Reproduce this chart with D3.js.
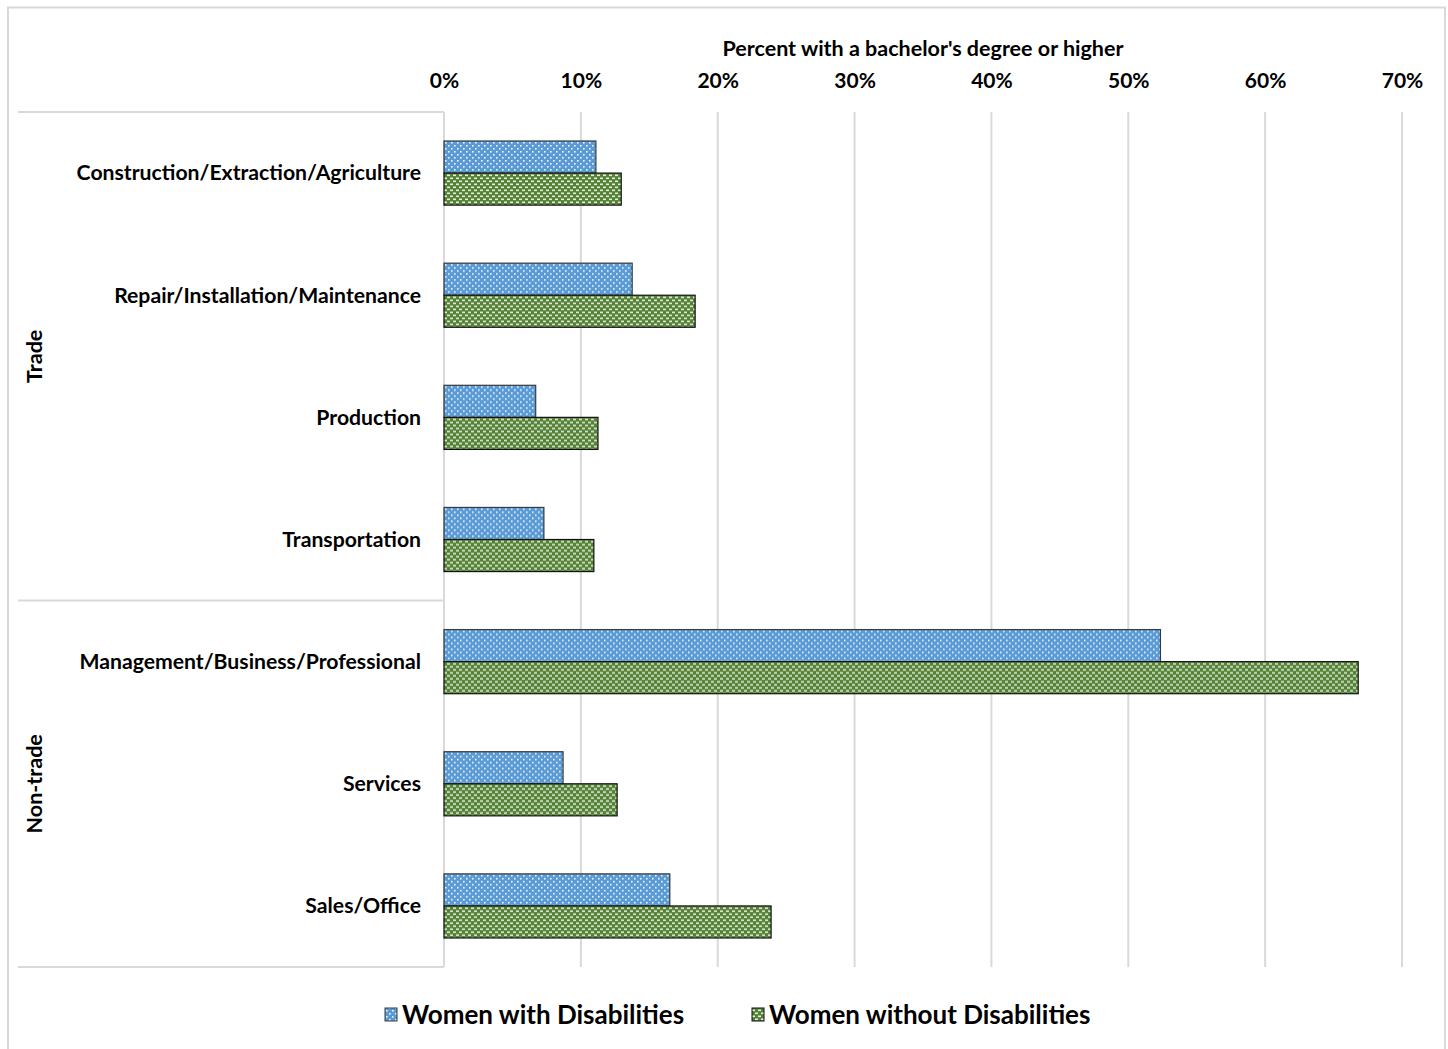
<!DOCTYPE html>
<html>
<head>
<meta charset="utf-8">
<script src="https://cdn.jsdelivr.net/npm/d3@7"></script>
<style>
  html, body { margin: 0; padding: 0; background: #fff; }
  svg { display: block; }
  text { font-family: Lato, "Open Sans", sans-serif; font-weight: 700; fill: #000; }
</style>
</head>
<body>
<svg id="chart" width="1448" height="1049"></svg>
<script>
// Occupations, top to bottom
const categories = [
  "Construction/Extraction/Agriculture",
  "Repair/Installation/Maintenance",
  "Production",
  "Transportation",
  "Management/Business/Professional",
  "Services",
  "Sales/Office"
];
// Occupation groups and how many occupations each spans
const groups = ["Trade", "Non-trade"];
const groupSizes = [4, 3];

// Share with a bachelor's degree or higher
const seriesNames = ["Women with Disabilities", "Women without Disabilities"];
const withDisabilities    = [0.111, 0.1375, 0.067, 0.073, 0.5235, 0.087, 0.165];
const withoutDisabilities = [0.1295, 0.1835, 0.1125, 0.1095, 0.668, 0.1265, 0.239];

const tickValues = [0, 0.1, 0.2, 0.3, 0.4, 0.5, 0.6, 0.7];
const axisTitle = "Percent with a bachelor's degree or higher";

const svg = d3.select("#chart");
const grid = "#d9d9d9";

// Patterned fills
const defs = svg.append("defs");
const pBlue = defs.append("pattern").attr("id", "dotBlue")
  .attr("patternUnits", "userSpaceOnUse").attr("width", 6).attr("height", 6);
pBlue.append("rect").attr("width", 6).attr("height", 6).attr("fill", "#5b9bd5");
pBlue.append("rect").attr("x", 1).attr("y", 1).attr("width", 1.6).attr("height", 1.6).attr("fill", "#fff").attr("opacity", 0.9);
pBlue.append("rect").attr("x", 4).attr("y", 4).attr("width", 1.6).attr("height", 1.6).attr("fill", "#fff").attr("opacity", 0.9);

const pGreen = defs.append("pattern").attr("id", "checkGreen")
  .attr("patternUnits", "userSpaceOnUse").attr("width", 6).attr("height", 6);
pGreen.append("rect").attr("width", 6).attr("height", 6).attr("fill", "#548235");
pGreen.append("rect").attr("x", 0).attr("y", 0.5).attr("width", 3).attr("height", 1.6).attr("fill", "#fff").attr("opacity", 0.85);
pGreen.append("rect").attr("x", 3).attr("y", 3.5).attr("width", 3).attr("height", 1.6).attr("fill", "#fff").attr("opacity", 0.85);

const fills = ["url(#dotBlue)", "url(#checkGreen)"];
const strokes = ["#3a3a3a", "#111"];

// Outer frame
svg.append("rect").attr("x", 8).attr("y", 7.5).attr("width", 1437).attr("height", 1060)
  .attr("fill", "none").attr("stroke", grid).attr("stroke-width", 2);

const plotTop = 112, plotBottom = 967, plotLeft = 444, plotRight = 1402;

const x = d3.scaleLinear().domain([0, 0.7]).range([plotLeft, plotRight]);
const y = d3.scaleBand().domain(categories).range([plotTop, plotBottom])
  .paddingInner(0.475).paddingOuter(0.2375);
const ySub = d3.scaleBand().domain(seriesNames).range([0, y.bandwidth()]);

// Vertical gridlines
svg.append("g").selectAll("line").data(tickValues).join("line")
  .attr("x1", d => x(d)).attr("x2", d => x(d))
  .attr("y1", plotTop).attr("y2", plotBottom)
  .attr("stroke", grid).attr("stroke-width", 2);

// Top axis with percent labels
const xAxis = d3.axisTop(x).tickValues(tickValues).tickFormat(d3.format(".0%")).tickSize(0).tickPadding(0);
const gx = svg.append("g").attr("transform", `translate(0,${88})`).call(xAxis);
gx.select(".domain").remove();
gx.selectAll("text").attr("font-size", 21).attr("font-family", "Lato, sans-serif").attr("font-weight", 700).attr("fill", "#000");

svg.append("text").attr("x", (plotLeft + plotRight) / 2).attr("y", 56)
  .attr("text-anchor", "middle").attr("font-size", 21.5).text(axisTitle);

// Category axis frame: separators between groups
const groupEdges = [0];
groupSizes.forEach((n, i) => groupEdges.push(groupEdges[i] + n));
const edgeY = k => k === 0 ? plotTop : (k === categories.length ? plotBottom : y(categories[k]) - y.step() * y.paddingInner() / 2);
svg.append("g").selectAll("line").data(groupEdges).join("line")
  .attr("x1", 18).attr("x2", plotLeft)
  .attr("y1", d => edgeY(d)).attr("y2", d => edgeY(d))
  .attr("stroke", grid).attr("stroke-width", 2);
svg.append("line").attr("x1", plotLeft).attr("x2", plotLeft).attr("y1", plotTop).attr("y2", plotBottom)
  .attr("stroke", grid).attr("stroke-width", 2);

// Group labels, rotated
svg.append("g").selectAll("text").data(groups).join("text")
  .attr("transform", (d, i) => {
    const cy = (edgeY(groupEdges[i]) + edgeY(groupEdges[i + 1])) / 2;
    return `translate(42,${cy}) rotate(-90)`;
  })
  .attr("text-anchor", "middle").attr("font-size", 21.5).attr("font-weight", 700).text(d => d);

// Category labels
svg.append("g").selectAll("text").data(categories).join("text")
  .attr("x", 421).attr("y", d => y(d) + y.bandwidth() / 2)
  .attr("dy", "0.35em").attr("text-anchor", "end").attr("font-size", 21.2).text(d => d);

// Bars
const rows = categories.map((c, i) => ({ c, vals: [withDisabilities[i], withoutDisabilities[i]] }));
const rowG = svg.append("g").selectAll("g").data(rows).join("g")
  .attr("transform", d => `translate(0,${y(d.c)})`);
rowG.selectAll("rect").data(d => d.vals.map((v, k) => ({ v, k }))).join("rect")
  .attr("x", x(0))
  .attr("y", d => ySub(seriesNames[d.k]))
  .attr("width", d => x(d.v) - x(0))
  .attr("height", ySub.bandwidth())
  .attr("fill", d => fills[d.k])
  .attr("stroke", d => strokes[d.k]).attr("stroke-width", 1.2);

// Legend
const legendItems = [{ name: seriesNames[0], x: 385 }, { name: seriesNames[1], x: 752 }];
const lg = svg.append("g").selectAll("g").data(legendItems.map((d, k) => ({ ...d, k }))).join("g")
  .attr("transform", d => `translate(${d.x},1015)`);
lg.append("rect").attr("x", 0).attr("y", -7).attr("width", 12).attr("height", 13)
  .attr("fill", d => fills[d.k]).attr("stroke", d => strokes[d.k]).attr("stroke-width", 1);
lg.append("text").attr("x", 17).attr("dy", "0.35em").attr("font-size", 26).text(d => d.name);
</script>
</body>
</html>
